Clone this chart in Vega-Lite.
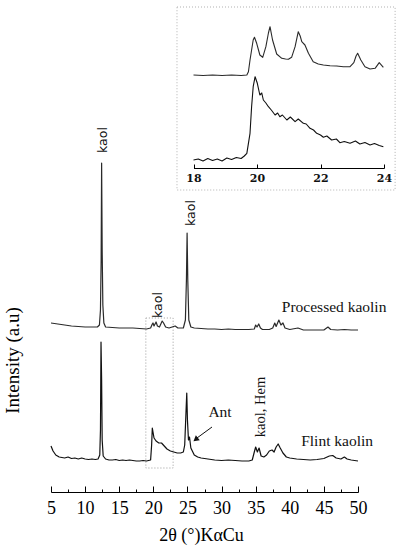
{
  "$schema": "https://vega.github.io/schema/vega-lite/v6.json",
  "width": 307,
  "height": 492,
  "autosize": {"type": "none"},
  "padding": {"left": 51, "top": 0, "right": 49, "bottom": 58},
  "background": "white",
  "config": {"view": {"stroke": null}, "axis": {"grid": false}},
  "datasets": {
    "xrdMain": [
      {"theta": 5.0, "intensity": 169, "sample": "Processed"},
      {"theta": 6.0, "intensity": 168, "sample": "Processed"},
      {"theta": 7.0, "intensity": 167, "sample": "Processed"},
      {"theta": 8.0, "intensity": 166, "sample": "Processed"},
      {"theta": 9.0, "intensity": 165.5, "sample": "Processed"},
      {"theta": 10.0, "intensity": 165, "sample": "Processed"},
      {"theta": 11.0, "intensity": 165, "sample": "Processed"},
      {"theta": 11.8, "intensity": 165, "sample": "Processed"},
      {"theta": 12.1, "intensity": 167, "sample": "Processed"},
      {"theta": 12.25, "intensity": 182, "sample": "Processed"},
      {"theta": 12.35, "intensity": 232, "sample": "Processed"},
      {"theta": 12.42, "intensity": 329, "sample": "Processed"},
      {"theta": 12.5, "intensity": 242, "sample": "Processed"},
      {"theta": 12.6, "intensity": 187, "sample": "Processed"},
      {"theta": 12.75, "intensity": 169, "sample": "Processed"},
      {"theta": 13.0, "intensity": 165, "sample": "Processed"},
      {"theta": 14.0, "intensity": 164.5, "sample": "Processed"},
      {"theta": 15.0, "intensity": 164, "sample": "Processed"},
      {"theta": 16.0, "intensity": 164, "sample": "Processed"},
      {"theta": 17.0, "intensity": 164, "sample": "Processed"},
      {"theta": 18.0, "intensity": 163.5, "sample": "Processed"},
      {"theta": 19.0, "intensity": 163, "sample": "Processed"},
      {"theta": 19.6, "intensity": 164, "sample": "Processed"},
      {"theta": 19.85, "intensity": 168, "sample": "Processed"},
      {"theta": 19.95, "intensity": 169, "sample": "Processed"},
      {"theta": 20.1, "intensity": 166, "sample": "Processed"},
      {"theta": 20.4, "intensity": 170, "sample": "Processed"},
      {"theta": 20.6, "intensity": 166, "sample": "Processed"},
      {"theta": 20.9, "intensity": 165, "sample": "Processed"},
      {"theta": 21.3, "intensity": 171, "sample": "Processed"},
      {"theta": 21.5, "intensity": 169, "sample": "Processed"},
      {"theta": 21.8, "intensity": 165, "sample": "Processed"},
      {"theta": 22.3, "intensity": 164, "sample": "Processed"},
      {"theta": 23.2, "intensity": 166, "sample": "Processed"},
      {"theta": 23.6, "intensity": 164, "sample": "Processed"},
      {"theta": 24.4, "intensity": 164, "sample": "Processed"},
      {"theta": 24.7, "intensity": 172, "sample": "Processed"},
      {"theta": 24.85, "intensity": 212, "sample": "Processed"},
      {"theta": 24.95, "intensity": 259, "sample": "Processed"},
      {"theta": 25.05, "intensity": 212, "sample": "Processed"},
      {"theta": 25.2, "intensity": 172, "sample": "Processed"},
      {"theta": 25.5, "intensity": 165, "sample": "Processed"},
      {"theta": 26.0, "intensity": 164, "sample": "Processed"},
      {"theta": 27.0, "intensity": 163.5, "sample": "Processed"},
      {"theta": 28.0, "intensity": 163, "sample": "Processed"},
      {"theta": 29.0, "intensity": 163, "sample": "Processed"},
      {"theta": 30.0, "intensity": 162.5, "sample": "Processed"},
      {"theta": 31.0, "intensity": 163, "sample": "Processed"},
      {"theta": 32.0, "intensity": 162.5, "sample": "Processed"},
      {"theta": 33.0, "intensity": 162.5, "sample": "Processed"},
      {"theta": 34.0, "intensity": 162.5, "sample": "Processed"},
      {"theta": 34.8, "intensity": 163, "sample": "Processed"},
      {"theta": 35.0, "intensity": 167, "sample": "Processed"},
      {"theta": 35.2, "intensity": 165, "sample": "Processed"},
      {"theta": 35.45, "intensity": 168, "sample": "Processed"},
      {"theta": 35.7, "intensity": 164, "sample": "Processed"},
      {"theta": 36.0, "intensity": 162.5, "sample": "Processed"},
      {"theta": 37.0, "intensity": 162.5, "sample": "Processed"},
      {"theta": 37.5, "intensity": 164, "sample": "Processed"},
      {"theta": 37.8, "intensity": 169, "sample": "Processed"},
      {"theta": 38.0, "intensity": 165.5, "sample": "Processed"},
      {"theta": 38.4, "intensity": 172, "sample": "Processed"},
      {"theta": 38.7, "intensity": 167, "sample": "Processed"},
      {"theta": 39.0, "intensity": 169, "sample": "Processed"},
      {"theta": 39.3, "intensity": 164, "sample": "Processed"},
      {"theta": 40.0, "intensity": 162.5, "sample": "Processed"},
      {"theta": 41.2, "intensity": 164, "sample": "Processed"},
      {"theta": 42.0, "intensity": 162, "sample": "Processed"},
      {"theta": 43.0, "intensity": 162, "sample": "Processed"},
      {"theta": 44.0, "intensity": 162, "sample": "Processed"},
      {"theta": 45.0, "intensity": 162, "sample": "Processed"},
      {"theta": 45.6, "intensity": 165, "sample": "Processed"},
      {"theta": 46.0, "intensity": 162.5, "sample": "Processed"},
      {"theta": 47.0, "intensity": 162, "sample": "Processed"},
      {"theta": 48.0, "intensity": 162.5, "sample": "Processed"},
      {"theta": 49.0, "intensity": 162, "sample": "Processed"},
      {"theta": 50.0, "intensity": 162, "sample": "Processed"},
      {"theta": 5.0, "intensity": 46, "sample": "Flint"},
      {"theta": 5.3, "intensity": 41, "sample": "Flint"},
      {"theta": 5.7, "intensity": 37, "sample": "Flint"},
      {"theta": 6.2, "intensity": 35, "sample": "Flint"},
      {"theta": 7.0, "intensity": 34, "sample": "Flint"},
      {"theta": 7.5, "intensity": 35, "sample": "Flint"},
      {"theta": 8.0, "intensity": 33.5, "sample": "Flint"},
      {"theta": 8.5, "intensity": 34, "sample": "Flint"},
      {"theta": 9.0, "intensity": 33, "sample": "Flint"},
      {"theta": 9.5, "intensity": 34, "sample": "Flint"},
      {"theta": 10.0, "intensity": 33, "sample": "Flint"},
      {"theta": 10.5, "intensity": 32.5, "sample": "Flint"},
      {"theta": 11.0, "intensity": 33, "sample": "Flint"},
      {"theta": 11.5, "intensity": 32.5, "sample": "Flint"},
      {"theta": 11.9, "intensity": 33, "sample": "Flint"},
      {"theta": 12.15, "intensity": 37, "sample": "Flint"},
      {"theta": 12.25, "intensity": 62, "sample": "Flint"},
      {"theta": 12.33, "intensity": 150, "sample": "Flint"},
      {"theta": 12.42, "intensity": 112, "sample": "Flint"},
      {"theta": 12.5, "intensity": 52, "sample": "Flint"},
      {"theta": 12.65, "intensity": 36, "sample": "Flint"},
      {"theta": 13.0, "intensity": 33, "sample": "Flint"},
      {"theta": 13.5, "intensity": 32, "sample": "Flint"},
      {"theta": 14.0, "intensity": 32, "sample": "Flint"},
      {"theta": 14.5, "intensity": 32.5, "sample": "Flint"},
      {"theta": 15.0, "intensity": 31.5, "sample": "Flint"},
      {"theta": 15.5, "intensity": 32, "sample": "Flint"},
      {"theta": 16.0, "intensity": 31.5, "sample": "Flint"},
      {"theta": 16.5, "intensity": 32, "sample": "Flint"},
      {"theta": 17.0, "intensity": 31.5, "sample": "Flint"},
      {"theta": 17.5, "intensity": 31, "sample": "Flint"},
      {"theta": 18.0, "intensity": 31, "sample": "Flint"},
      {"theta": 18.5, "intensity": 31.5, "sample": "Flint"},
      {"theta": 19.0, "intensity": 31, "sample": "Flint"},
      {"theta": 19.6, "intensity": 32, "sample": "Flint"},
      {"theta": 19.75, "intensity": 47, "sample": "Flint"},
      {"theta": 19.85, "intensity": 64, "sample": "Flint"},
      {"theta": 19.95, "intensity": 60, "sample": "Flint"},
      {"theta": 20.1, "intensity": 54, "sample": "Flint"},
      {"theta": 20.4, "intensity": 51, "sample": "Flint"},
      {"theta": 20.8, "intensity": 49, "sample": "Flint"},
      {"theta": 21.2, "intensity": 49, "sample": "Flint"},
      {"theta": 21.6, "intensity": 46, "sample": "Flint"},
      {"theta": 22.0, "intensity": 43, "sample": "Flint"},
      {"theta": 22.5, "intensity": 41, "sample": "Flint"},
      {"theta": 23.0, "intensity": 40, "sample": "Flint"},
      {"theta": 23.5, "intensity": 39, "sample": "Flint"},
      {"theta": 24.0, "intensity": 39, "sample": "Flint"},
      {"theta": 24.4, "intensity": 40, "sample": "Flint"},
      {"theta": 24.6, "intensity": 47, "sample": "Flint"},
      {"theta": 24.8, "intensity": 82, "sample": "Flint"},
      {"theta": 24.9, "intensity": 99, "sample": "Flint"},
      {"theta": 25.0, "intensity": 72, "sample": "Flint"},
      {"theta": 25.15, "intensity": 52, "sample": "Flint"},
      {"theta": 25.3, "intensity": 55, "sample": "Flint"},
      {"theta": 25.5, "intensity": 44, "sample": "Flint"},
      {"theta": 26.0, "intensity": 37, "sample": "Flint"},
      {"theta": 26.5, "intensity": 35, "sample": "Flint"},
      {"theta": 27.0, "intensity": 34, "sample": "Flint"},
      {"theta": 28.0, "intensity": 33, "sample": "Flint"},
      {"theta": 29.0, "intensity": 32, "sample": "Flint"},
      {"theta": 30.0, "intensity": 31.5, "sample": "Flint"},
      {"theta": 31.0, "intensity": 32, "sample": "Flint"},
      {"theta": 32.0, "intensity": 31.5, "sample": "Flint"},
      {"theta": 33.0, "intensity": 31, "sample": "Flint"},
      {"theta": 34.0, "intensity": 31, "sample": "Flint"},
      {"theta": 34.5, "intensity": 32, "sample": "Flint"},
      {"theta": 34.8, "intensity": 40, "sample": "Flint"},
      {"theta": 35.0, "intensity": 45, "sample": "Flint"},
      {"theta": 35.25, "intensity": 40, "sample": "Flint"},
      {"theta": 35.5, "intensity": 44, "sample": "Flint"},
      {"theta": 35.8, "intensity": 36, "sample": "Flint"},
      {"theta": 36.2, "intensity": 35, "sample": "Flint"},
      {"theta": 36.6, "intensity": 37, "sample": "Flint"},
      {"theta": 37.0, "intensity": 41, "sample": "Flint"},
      {"theta": 37.4, "intensity": 42, "sample": "Flint"},
      {"theta": 37.7, "intensity": 40, "sample": "Flint"},
      {"theta": 38.0, "intensity": 45, "sample": "Flint"},
      {"theta": 38.3, "intensity": 48, "sample": "Flint"},
      {"theta": 38.6, "intensity": 44, "sample": "Flint"},
      {"theta": 39.0, "intensity": 39, "sample": "Flint"},
      {"theta": 39.5, "intensity": 35, "sample": "Flint"},
      {"theta": 40.0, "intensity": 34, "sample": "Flint"},
      {"theta": 41.0, "intensity": 33, "sample": "Flint"},
      {"theta": 42.0, "intensity": 32.5, "sample": "Flint"},
      {"theta": 43.0, "intensity": 32, "sample": "Flint"},
      {"theta": 44.0, "intensity": 32.5, "sample": "Flint"},
      {"theta": 45.0, "intensity": 33.5, "sample": "Flint"},
      {"theta": 45.8, "intensity": 36, "sample": "Flint"},
      {"theta": 46.3, "intensity": 36.5, "sample": "Flint"},
      {"theta": 46.8, "intensity": 34, "sample": "Flint"},
      {"theta": 47.5, "intensity": 33, "sample": "Flint"},
      {"theta": 48.0, "intensity": 35, "sample": "Flint"},
      {"theta": 48.4, "intensity": 33, "sample": "Flint"},
      {"theta": 49.0, "intensity": 32, "sample": "Flint"},
      {"theta": 50.0, "intensity": 31, "sample": "Flint"}
    ],
    "xrdInset": [
      {"theta": 18.0, "intensity": 93, "sample": "Processed"},
      {"theta": 18.3, "intensity": 92.5, "sample": "Processed"},
      {"theta": 18.6, "intensity": 93, "sample": "Processed"},
      {"theta": 18.9, "intensity": 92.5, "sample": "Processed"},
      {"theta": 19.2, "intensity": 93, "sample": "Processed"},
      {"theta": 19.5, "intensity": 92.5, "sample": "Processed"},
      {"theta": 19.68, "intensity": 93, "sample": "Processed"},
      {"theta": 19.73, "intensity": 96.3, "sample": "Processed"},
      {"theta": 19.78, "intensity": 108, "sample": "Processed"},
      {"theta": 19.83, "intensity": 118, "sample": "Processed"},
      {"theta": 19.88, "intensity": 128, "sample": "Processed"},
      {"theta": 19.92, "intensity": 130.7, "sample": "Processed"},
      {"theta": 19.99, "intensity": 124.7, "sample": "Processed"},
      {"theta": 20.09, "intensity": 113, "sample": "Processed"},
      {"theta": 20.18, "intensity": 110.7, "sample": "Processed"},
      {"theta": 20.28, "intensity": 121.3, "sample": "Processed"},
      {"theta": 20.36, "intensity": 135, "sample": "Processed"},
      {"theta": 20.41, "intensity": 141.3, "sample": "Processed"},
      {"theta": 20.49, "intensity": 128, "sample": "Processed"},
      {"theta": 20.62, "intensity": 114, "sample": "Processed"},
      {"theta": 20.78, "intensity": 109.7, "sample": "Processed"},
      {"theta": 20.9, "intensity": 109, "sample": "Processed"},
      {"theta": 20.99, "intensity": 108.7, "sample": "Processed"},
      {"theta": 21.09, "intensity": 110.7, "sample": "Processed"},
      {"theta": 21.2, "intensity": 121.3, "sample": "Processed"},
      {"theta": 21.3, "intensity": 136.3, "sample": "Processed"},
      {"theta": 21.36, "intensity": 132, "sample": "Processed"},
      {"theta": 21.41, "intensity": 126.3, "sample": "Processed"},
      {"theta": 21.51, "intensity": 123, "sample": "Processed"},
      {"theta": 21.62, "intensity": 114.7, "sample": "Processed"},
      {"theta": 21.77, "intensity": 106.3, "sample": "Processed"},
      {"theta": 21.93, "intensity": 104, "sample": "Processed"},
      {"theta": 22.09, "intensity": 103, "sample": "Processed"},
      {"theta": 22.3, "intensity": 102.3, "sample": "Processed"},
      {"theta": 22.51, "intensity": 102, "sample": "Processed"},
      {"theta": 22.72, "intensity": 101.3, "sample": "Processed"},
      {"theta": 22.93, "intensity": 101.3, "sample": "Processed"},
      {"theta": 23.05, "intensity": 105.3, "sample": "Processed"},
      {"theta": 23.12, "intensity": 112, "sample": "Processed"},
      {"theta": 23.17, "intensity": 114.7, "sample": "Processed"},
      {"theta": 23.27, "intensity": 108, "sample": "Processed"},
      {"theta": 23.4, "intensity": 101.3, "sample": "Processed"},
      {"theta": 23.56, "intensity": 99, "sample": "Processed"},
      {"theta": 23.72, "intensity": 99.7, "sample": "Processed"},
      {"theta": 23.85, "intensity": 105.3, "sample": "Processed"},
      {"theta": 23.98, "intensity": 100.7, "sample": "Processed"},
      {"theta": 18.0, "intensity": 8, "sample": "Flint"},
      {"theta": 18.15, "intensity": 9, "sample": "Flint"},
      {"theta": 18.3, "intensity": 7, "sample": "Flint"},
      {"theta": 18.45, "intensity": 9.5, "sample": "Flint"},
      {"theta": 18.6, "intensity": 7.5, "sample": "Flint"},
      {"theta": 18.75, "intensity": 9, "sample": "Flint"},
      {"theta": 18.9, "intensity": 7, "sample": "Flint"},
      {"theta": 19.05, "intensity": 10, "sample": "Flint"},
      {"theta": 19.2, "intensity": 8.5, "sample": "Flint"},
      {"theta": 19.35, "intensity": 10.5, "sample": "Flint"},
      {"theta": 19.5, "intensity": 9.5, "sample": "Flint"},
      {"theta": 19.6, "intensity": 12, "sample": "Flint"},
      {"theta": 19.68, "intensity": 14.7, "sample": "Flint"},
      {"theta": 19.78, "intensity": 34.7, "sample": "Flint"},
      {"theta": 19.83, "intensity": 61.3, "sample": "Flint"},
      {"theta": 19.88, "intensity": 81.3, "sample": "Flint"},
      {"theta": 19.94, "intensity": 91.3, "sample": "Flint"},
      {"theta": 20.01, "intensity": 84.7, "sample": "Flint"},
      {"theta": 20.09, "intensity": 73, "sample": "Flint"},
      {"theta": 20.15, "intensity": 75, "sample": "Flint"},
      {"theta": 20.2, "intensity": 68, "sample": "Flint"},
      {"theta": 20.28, "intensity": 65, "sample": "Flint"},
      {"theta": 20.36, "intensity": 61.3, "sample": "Flint"},
      {"theta": 20.45, "intensity": 58, "sample": "Flint"},
      {"theta": 20.57, "intensity": 53, "sample": "Flint"},
      {"theta": 20.65, "intensity": 55, "sample": "Flint"},
      {"theta": 20.72, "intensity": 51.3, "sample": "Flint"},
      {"theta": 20.8, "intensity": 53, "sample": "Flint"},
      {"theta": 20.94, "intensity": 48, "sample": "Flint"},
      {"theta": 21.05, "intensity": 51, "sample": "Flint"},
      {"theta": 21.2, "intensity": 46.3, "sample": "Flint"},
      {"theta": 21.3, "intensity": 49, "sample": "Flint"},
      {"theta": 21.46, "intensity": 44.7, "sample": "Flint"},
      {"theta": 21.55, "intensity": 44, "sample": "Flint"},
      {"theta": 21.67, "intensity": 39.7, "sample": "Flint"},
      {"theta": 21.78, "intensity": 38, "sample": "Flint"},
      {"theta": 21.88, "intensity": 34.7, "sample": "Flint"},
      {"theta": 22.0, "intensity": 33, "sample": "Flint"},
      {"theta": 22.09, "intensity": 30.7, "sample": "Flint"},
      {"theta": 22.2, "intensity": 32, "sample": "Flint"},
      {"theta": 22.35, "intensity": 28, "sample": "Flint"},
      {"theta": 22.5, "intensity": 29, "sample": "Flint"},
      {"theta": 22.61, "intensity": 25.3, "sample": "Flint"},
      {"theta": 22.75, "intensity": 26.5, "sample": "Flint"},
      {"theta": 22.93, "intensity": 24.7, "sample": "Flint"},
      {"theta": 23.1, "intensity": 27, "sample": "Flint"},
      {"theta": 23.24, "intensity": 24, "sample": "Flint"},
      {"theta": 23.4, "intensity": 25.5, "sample": "Flint"},
      {"theta": 23.56, "intensity": 23, "sample": "Flint"},
      {"theta": 23.7, "intensity": 24.5, "sample": "Flint"},
      {"theta": 23.85, "intensity": 22.5, "sample": "Flint"},
      {"theta": 23.98, "intensity": 21.3, "sample": "Flint"}
    ]
  },
  "layer": [
    {
      "layer": [
        {
          "data": {"values": [{"x1": 18.9, "x2": 22.9, "y1": 24, "y2": 174}]},
          "mark": {"type": "rect", "fillOpacity": 0, "stroke": "#9a9a9a", "strokeWidth": 1, "strokeDash": [1, 2]},
          "encoding": {
            "x": {"field": "x1", "type": "quantitative", "axis": {
              "orient": "bottom",
              "values": [7.5, 12.5, 17.5, 22.5, 27.5, 32.5, 37.5, 42.5, 47.5],
              "labels": false, "domain": false, "title": null,
              "tickSize": -3, "tickColor": "#000", "tickWidth": 1
            }},
            "x2": {"field": "x2"},
            "y": {"field": "y1", "type": "quantitative", "axis": null},
            "y2": {"field": "y2"}
          }
        },
        {
          "data": {"name": "xrdMain"},
          "mark": {"type": "line", "strokeWidth": 1.2, "strokeJoin": "round"},
          "encoding": {
            "x": {
              "field": "theta", "type": "quantitative",
              "scale": {"domain": [5, 50], "nice": false, "zero": false},
              "axis": {
                "orient": "bottom",
                "values": [5, 10, 15, 20, 25, 30, 35, 40, 45, 50],
                "tickSize": -6, "tickColor": "#000", "domainColor": "#000", "tickWidth": 1, "domainWidth": 1,
                "labelFont": "Liberation Serif", "labelFontSize": 18, "labelColor": "#000",
                "labelPadding": 13, "labelFlush": false, "labelOverlap": false,
                "title": "2θ (°)KαCu",
                "titleFont": "Liberation Serif", "titleFontSize": 18, "titleFontWeight": "normal", "titleColor": "#000",
                "titleX": 150, "titleY": 43, "titleBaseline": "middle", "titleAlign": "center"
              }
            },
            "y": {
              "field": "intensity", "type": "quantitative",
              "scale": {"domain": [0, 492], "nice": false, "zero": false},
              "axis": {
                "orient": "left",
                "domain": false, "ticks": false, "labels": false,
                "title": "Intensity (a.u)",
                "titleFont": "Liberation Serif", "titleFontSize": 19, "titleFontWeight": "normal", "titleColor": "#000",
                "titleX": -39, "titleY": 360, "titleAngle": 270, "titleAlign": "center", "titleBaseline": "middle"
              }
            },
            "color": {"field": "sample", "type": "nominal", "scale": {"domain": ["Processed", "Flint"], "range": ["#2a2a2a", "#111111"]}, "legend": null}
          }
        },
        {
          "data": {"values": [
            {"x": 12.62, "y": 352, "label": "kaol"},
            {"x": 20.69, "y": 187, "label": "kaol"},
            {"x": 25.53, "y": 279, "label": "kaol"}
          ]},
          "mark": {"type": "text", "angle": 270, "font": "DejaVu Sans", "fontSize": 12.5, "align": "center", "baseline": "middle", "color": "#111"},
          "encoding": {
            "x": {"field": "x", "type": "quantitative", "axis": null},
            "y": {"field": "y", "type": "quantitative", "axis": null},
            "text": {"field": "label", "type": "nominal"}
          }
        },
        {
          "data": {"values": [
            {"x": 35.79, "y": 85, "label": "kaol, Hem"}
          ]},
          "mark": {"type": "text", "angle": 270, "font": "Liberation Serif", "fontSize": 14.5, "align": "center", "baseline": "middle", "color": "#111"},
          "encoding": {
            "x": {"field": "x", "type": "quantitative", "axis": null},
            "y": {"field": "y", "type": "quantitative", "axis": null},
            "text": {"field": "label", "type": "nominal"}
          }
        },
        {
          "data": {"values": [
            {"x": 46.5, "y": 185, "label": "Processed kaolin"},
            {"x": 46.94, "y": 51, "label": "Flint kaolin"},
            {"x": 29.78, "y": 80, "label": "Ant"}
          ]},
          "mark": {"type": "text", "font": "Liberation Serif", "align": "center", "baseline": "middle", "color": "#111", "fontSize": 15.5},
          "encoding": {
            "x": {"field": "x", "type": "quantitative", "axis": null},
            "y": {"field": "y", "type": "quantitative", "axis": null},
            "text": {"field": "label", "type": "nominal"}
          }
        },
        {
          "data": {"values": [{"x1": 28.6, "y1": 65, "x2": 26.3, "y2": 53.5}]},
          "mark": {"type": "rule", "color": "#111", "strokeWidth": 1},
          "encoding": {
            "x": {"field": "x1", "type": "quantitative", "axis": null},
            "y": {"field": "y1", "type": "quantitative", "axis": null},
            "x2": {"field": "x2"},
            "y2": {"field": "y2"}
          }
        },
        {
          "data": {"values": [{"x": 26.2, "y": 52.5}]},
          "mark": {"type": "point", "shape": "triangle-up", "filled": true, "color": "#111", "size": 40, "angle": 232, "opacity": 1},
          "encoding": {
            "x": {"field": "x", "type": "quantitative", "axis": null},
            "y": {"field": "y", "type": "quantitative", "axis": null}
          }
        }
      ],
      "resolve": {"axis": {"x": "independent", "y": "independent"}}
    },
    {
      "layer": [
        {
          "data": {"values": [{"x1": 17.48, "x2": 24.35, "y1": -22, "y2": 161}]},
          "mark": {"type": "rect", "fillOpacity": 0, "stroke": "#b0b0b0", "strokeWidth": 1, "strokeDash": [1, 2]},
          "encoding": {
            "x": {"field": "x1", "type": "quantitative", "axis": null},
            "x2": {"field": "x2"},
            "y": {"field": "y1", "type": "quantitative", "axis": null},
            "y2": {"field": "y2"}
          }
        },
        {
          "data": {"name": "xrdInset"},
          "mark": {"type": "line", "strokeWidth": 1.1, "strokeJoin": "round"},
          "encoding": {
            "x": {
              "field": "theta", "type": "quantitative",
              "scale": {"domain": [18, 24], "range": [142.5, 333], "nice": false, "zero": false},
              "axis": {
                "orient": "bottom", "offset": -324,
                "values": [18, 20, 22, 24],
                "tickSize": -4, "tickColor": "#000", "domainColor": "#000", "tickWidth": 1, "domainWidth": 1,
                "labelFont": "DejaVu Serif", "labelFontWeight": "bold", "labelFontSize": 11, "labelColor": "#111",
                "labelPadding": 8, "labelFlush": false,
                "title": ""
              }
            },
            "y": {
              "field": "intensity", "type": "quantitative",
              "scale": {"domain": [0, 163], "range": [168, 5], "nice": false, "zero": false},
              "axis": null
            },
            "color": {"field": "sample", "type": "nominal", "scale": {"domain": ["Processed", "Flint"], "range": ["#2a2a2a", "#111111"]}, "legend": null}
          }
        }
      ],
      "resolve": {"axis": {"x": "independent", "y": "independent"}}
    }
  ],
  "resolve": {"scale": {"x": "independent", "y": "independent"}}
}
